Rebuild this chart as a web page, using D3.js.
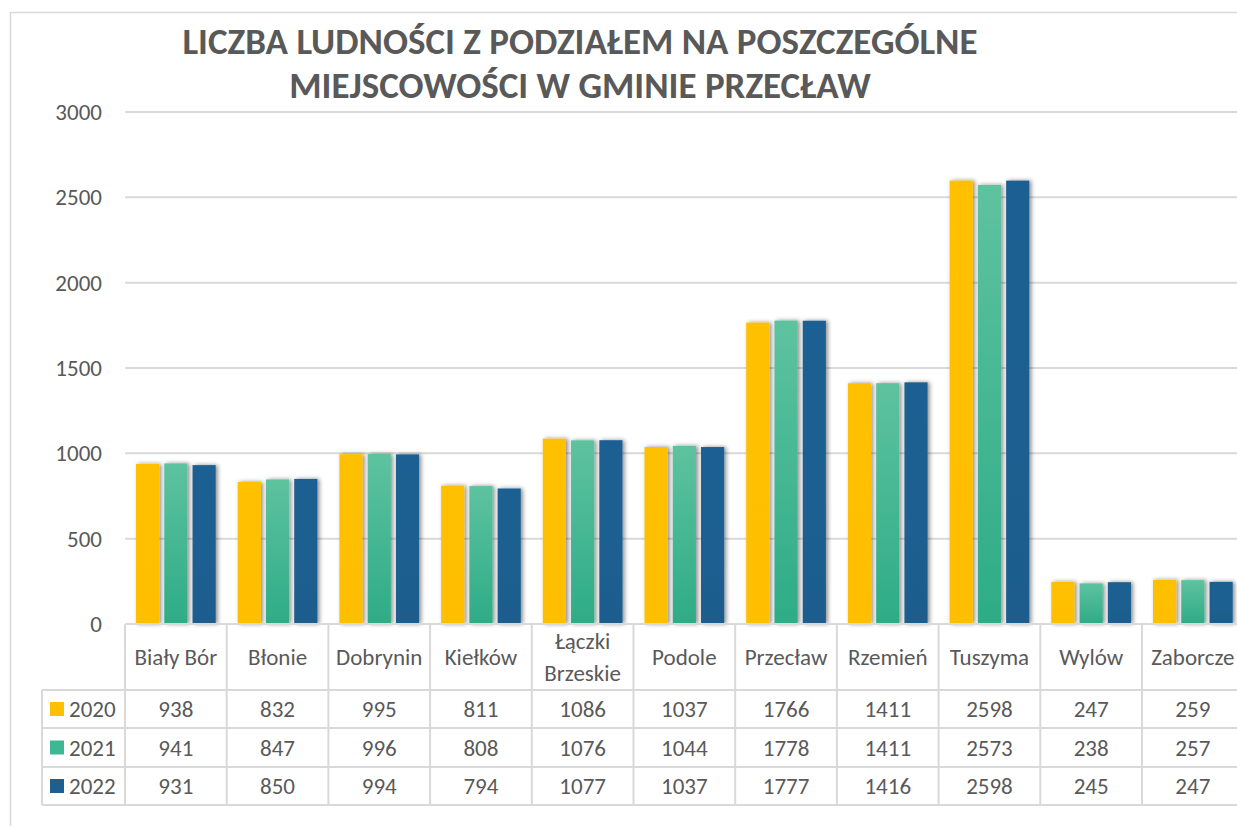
<!DOCTYPE html>
<html>
<head>
<meta charset="utf-8">
<script src="https://cdn.jsdelivr.net/npm/d3@7"></script>
<style>
  body { margin: 0; background: #fff; }
  text { font-family: Calibri, Carlito, Lato, "Open Sans", sans-serif; }
</style>
</head>
<body>
<script>
// Data
var places = ["Biały Bór", "Błonie", "Dobrynin", "Kiełków", "Łączki Brzeskie",
  "Podole", "Przecław", "Rzemień", "Tuszyma", "Wylów", "Zaborcze"];
var years = ["2020", "2021", "2022"];
var values2020 = [938, 832, 995, 811, 1086, 1037, 1766, 1411, 2598, 247, 259];
var values2021 = [941, 847, 996, 808, 1076, 1044, 1778, 1411, 2573, 238, 257];
var values2022 = [931, 850, 994, 794, 1077, 1037, 1777, 1416, 2598, 245, 247];
var yTicks = [0, 500, 1000, 1500, 2000, 2500, 3000];
var titleLines = ["LICZBA LUDNOŚCI Z PODZIAŁEM NA POSZCZEGÓLNE", "MIEJSCOWOŚCI W GMINIE PRZECŁAW"];

var series = [values2020, values2021, values2022];

var W = 1237, H = 826;
var plot = { left: 125, top: 112, bottom: 624 };
var colW = 101.7;
var rowY = [690, 728, 767, 805]; // table row lines under the header
var fs = 23; // label font size

var svg = d3.select("body").append("svg")
  .attr("width", W)
  .attr("height", H);

// gradients + shadow
var defs = svg.append("defs");
function grad(id, top, bottom) {
  var g = defs.append("linearGradient").attr("id", id)
    .attr("x1", 0).attr("y1", 0).attr("x2", 0).attr("y2", 1);
  g.append("stop").attr("offset", "0%").attr("stop-color", top);
  g.append("stop").attr("offset", "100%").attr("stop-color", bottom);
}
grad("g2020", "#ffc000", "#ffbf00");
grad("g2021", "#5ec29f", "#2dac86");
grad("g2022", "#1f6193", "#1b5d8e");
var colors = ["url(#g2020)", "url(#g2021)", "url(#g2022)"];
var legendColors = ["#ffc000", "#3db892", "#1d5f91"];

defs.append("filter").attr("id", "shadow")
  .attr("x", "-30%").attr("y", "-10%").attr("width", "160%").attr("height", "120%")
  .append("feDropShadow")
  .attr("dx", 2).attr("dy", 0).attr("stdDeviation", 2)
  .attr("flood-color", "#000").attr("flood-opacity", 0.45);

// chart border
svg.append("rect")
  .attr("x", 10.5).attr("y", 12.5)
  .attr("width", W + 20).attr("height", 830)
  .attr("fill", "none").attr("stroke", "#d9d9d9").attr("stroke-width", 1.5);

// title
svg.append("text")
  .attr("x", 580).attr("y", 54)
  .attr("text-anchor", "middle")
  .attr("font-size", 37).attr("font-weight", "bold").attr("fill", "#595959")
  .selectAll("tspan")
  .data(titleLines)
  .enter().append("tspan")
  .attr("x", 580)
  .attr("dy", function(d, i) { return i === 0 ? 0 : 44; })
  .text(function(d) { return d; });

// scales
var x = d3.scaleBand()
  .domain(places)
  .range([plot.left, plot.left + colW * places.length]);

var x1 = d3.scaleBand()
  .domain(years)
  .range([11, colW - 11])
  .paddingInner(0.18);

var y = d3.scaleLinear()
  .domain([0, 3000])
  .range([plot.bottom, plot.top]);

// gridlines
svg.append("g").selectAll("line")
  .data(yTicks.filter(function(d) { return d > 0; }))
  .enter().append("line")
  .attr("x1", plot.left).attr("x2", W)
  .attr("y1", function(d) { return y(d); })
  .attr("y2", function(d) { return y(d); })
  .attr("stroke", "#d9d9d9").attr("stroke-width", 2);

// y axis labels
var yAxis = d3.axisLeft(y).tickValues(yTicks).tickFormat(d3.format("d"))
  .tickSize(0).tickPadding(0);
var yg = svg.append("g")
  .attr("transform", "translate(102,0)")
  .call(yAxis)
  .attr("font-size", fs);
yg.select(".domain").remove();
yg.selectAll("text")
  .attr("fill", "#595959");

// bars
var groups = svg.append("g").selectAll("g")
  .data(places)
  .enter().append("g")
  .attr("transform", function(d) { return "translate(" + x(d) + ",0)"; });

groups.selectAll("rect")
  .data(function(d, i) {
    return years.map(function(yr, j) { return { year: yr, value: series[j][i], k: j }; });
  })
  .enter().append("rect")
  .attr("x", function(d) { return x1(d.year); })
  .attr("width", x1.bandwidth())
  .attr("y", function(d) { return y(d.value); })
  .attr("height", function(d) { return y(0) - y(d.value); })
  .attr("fill", function(d) { return colors[d.k]; })
  .attr("filter", "url(#shadow)");

// data table
var table = svg.append("g");
var lineColor = "#d9d9d9";
var tableRight = plot.left + colW * places.length;

// horizontal lines
table.append("line")
  .attr("x1", plot.left).attr("x2", tableRight)
  .attr("y1", plot.bottom).attr("y2", plot.bottom)
  .attr("stroke", lineColor).attr("stroke-width", 2);
table.selectAll(".hrow")
  .data(rowY)
  .enter().append("line")
  .attr("class", "hrow")
  .attr("x1", 42).attr("x2", tableRight)
  .attr("y1", function(d) { return d; }).attr("y2", function(d) { return d; })
  .attr("stroke", lineColor).attr("stroke-width", 2);

// vertical lines
var vx = places.map(function(p) { return x(p); }).concat([tableRight]);
table.selectAll(".vcol")
  .data(vx)
  .enter().append("line")
  .attr("class", "vcol")
  .attr("x1", function(d) { return d; }).attr("x2", function(d) { return d; })
  .attr("y1", plot.bottom).attr("y2", rowY[3])
  .attr("stroke", lineColor).attr("stroke-width", 2);
table.append("line")
  .attr("x1", 42).attr("x2", 42)
  .attr("y1", rowY[0]).attr("y2", rowY[3])
  .attr("stroke", lineColor).attr("stroke-width", 2);

// category labels
var headerMid = (plot.bottom + rowY[0]) / 2;
table.selectAll(".cat")
  .data(places)
  .enter().append("text")
  .attr("class", "cat")
  .attr("text-anchor", "middle")
  .attr("font-size", fs).attr("fill", "#595959")
  .each(function(d) {
    var words = d.split(" ");
    var lines = (d.length > 12) ? words : [d];
    var t = d3.select(this);
    lines.forEach(function(l, i) {
      t.append("tspan")
        .attr("x", x(d) + colW / 2)
        .attr("y", headerMid + 8 + (i - (lines.length - 1) / 2) * 32)
        .text(l);
    });
  });

// legend keys + year labels
years.forEach(function(yr, j) {
  var mid = (rowY[j] + rowY[j + 1]) / 2;
  table.append("rect")
    .attr("x", 50).attr("y", mid - 7)
    .attr("width", 14).attr("height", 14)
    .attr("fill", legendColors[j]);
  table.append("text")
    .attr("x", 69).attr("y", mid + 8)
    .attr("font-size", fs).attr("fill", "#595959")
    .text(yr);

  table.selectAll(".v" + yr)
    .data(series[j])
    .enter().append("text")
    .attr("class", "v" + yr)
    .attr("x", function(d, i) { return x(places[i]) + colW / 2; })
    .attr("y", mid + 8)
    .attr("text-anchor", "middle")
    .attr("font-size", fs).attr("fill", "#595959")
    .text(function(d) { return d; });
});
</script>
</body>
</html>
